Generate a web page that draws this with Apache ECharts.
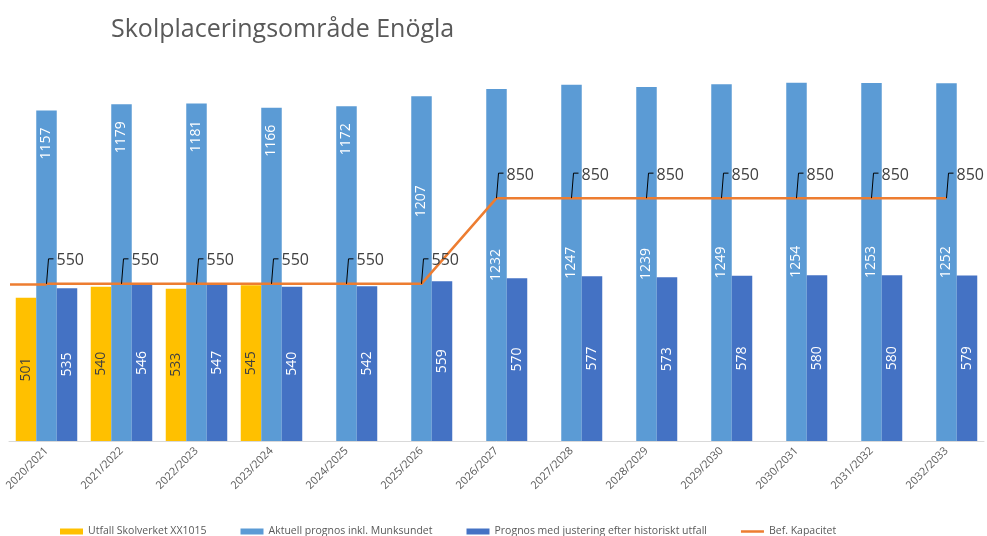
<!DOCTYPE html>
<html>
<head>
<meta charset="utf-8">
<script src="https://cdn.jsdelivr.net/npm/echarts@6/dist/echarts.min.js"></script>
<style>
  html, body { margin: 0; padding: 0; background: #fff; }
  #chart { width: 987px; height: 536px; }
</style>
</head>
<body>
<div id="chart"></div>
<script>
// läsår
const years = ['2020/2021', '2021/2022', '2022/2023', '2023/2024', '2024/2025', '2025/2026',
  '2026/2027', '2027/2028', '2028/2029', '2029/2030', '2030/2031', '2031/2032', '2032/2033'];
const utfall = [501, 540, 533, 545, null, null, null, null, null, null, null, null, null];
const aktuellPrognos = [1157, 1179, 1181, 1166, 1172, 1207, 1232, 1247, 1239, 1249, 1254, 1253, 1252];
const justeradPrognos = [535, 546, 547, 540, 542, 559, 570, 577, 573, 578, 580, 580, 579];
const kapacitet = [550, 550, 550, 550, 550, 550, 850, 850, 850, 850, 850, 850, 850];

const FONT = 'Open Sans';
const GRID_LEFT = 9;

const chart = echarts.init(document.getElementById('chart'));

// labels in the light blue bars were moved up by hand in the original
const blueData = aktuellPrognos.map((v, i) => {
  let label = {};
  if (i < 5) label = { position: ['50%', 33], align: 'center', verticalAlign: 'middle' };
  else if (i === 5) label = { position: ['50%', 105], align: 'center', verticalAlign: 'middle' };
  return { value: v, label };
});

const option = {
  animation: false,
  textStyle: { fontFamily: FONT },
  title: {
    text: 'Skolplaceringsområde Enögla',
    left: 106,
    top: 12,
    textStyle: { fontFamily: FONT, fontSize: 25, fontWeight: 'normal', color: '#595959' }
  },
  legend: {
    left: 55,
    top: 521,
    itemWidth: 23,
    itemHeight: 6,
    itemGap: 34,
    textStyle: { fontFamily: FONT, fontSize: 10.5, color: '#595959' },
    data: [
      { name: 'Utfall Skolverket XX1015', icon: 'rect' },
      { name: 'Aktuell prognos inkl. Munksundet', icon: 'rect' },
      { name: 'Prognos med justering efter historiskt utfall', icon: 'rect' },
      // thin line icon: the two moveTo points keep the full 23x6 box
      { name: 'Bef. Kapacitet', icon: 'path://M0,0 M23,6 M0,1.75 L23,1.75 L23,4.25 L0,4.25 Z', itemStyle: { color: '#ED7D31' } }
    ]
  },
  grid: { left: GRID_LEFT, right: 3, top: 41, bottom: 95, containLabel: false },
  xAxis: {
    type: 'category',
    data: years,
    axisLine: { lineStyle: { color: '#d9d9d9', width: 1 } },
    axisTick: { show: false },
    axisLabel: { rotate: 45, fontSize: 11, color: '#595959', margin: 8, interval: 0 }
  },
  yAxis: {
    type: 'value',
    min: 0,
    max: 1400,
    show: false,
    splitLine: { show: false }
  },
  series: [
    {
      name: 'Utfall Skolverket XX1015',
      type: 'bar',
      data: utfall,
      barGap: '0%',
      barCategoryGap: '18%',
      itemStyle: { color: '#FFC000' },
      label: { show: true, position: 'inside', rotate: 90, color: '#404040', fontSize: 14, fontFamily: FONT }
    },
    {
      name: 'Aktuell prognos inkl. Munksundet',
      type: 'bar',
      data: blueData,
      barGap: '0%',
      barCategoryGap: '18%',
      itemStyle: { color: '#5B9BD5' },
      label: { show: true, position: 'inside', rotate: 90, color: '#fff', fontSize: 14, fontFamily: FONT }
    },
    {
      name: 'Prognos med justering efter historiskt utfall',
      type: 'bar',
      data: justeradPrognos,
      barGap: '0%',
      barCategoryGap: '18%',
      itemStyle: { color: '#4472C4' },
      label: { show: true, position: 'inside', rotate: 90, color: '#fff', fontSize: 14, fontFamily: FONT }
    },
    {
      name: 'Bef. Kapacitet',
      type: 'line',
      data: kapacitet,
      symbol: 'none',
      z: 5,
      lineStyle: { color: '#ED7D31', width: 2.5 },
      itemStyle: { color: '#ED7D31' },
      markLine: {
        silent: true,
        symbol: 'none',
        label: { show: false },
        lineStyle: { color: '#ED7D31', width: 2.5, type: 'solid' },
        data: [[{ x: GRID_LEFT + 1, yAxis: kapacitet[0] }, { xAxis: 0, yAxis: kapacitet[0] }]]
      }
    },
    {
      // leader lines + value labels for the capacity line
      type: 'custom',
      z: 6,
      silent: true,
      data: kapacitet.map((v, i) => [i, v]),
      encode: { x: 0, y: 1 },
      renderItem: function (params, api) {
        const p = api.coord([api.value(0), api.value(1)]);
        return {
          type: 'group',
          children: [
            {
              type: 'polyline',
              shape: { points: [[p[0], p[1]], [p[0] + 2, p[1] - 25], [p[0] + 7, p[1] - 25]] },
              style: { stroke: '#000', lineWidth: 1, fill: null }
            },
            {
              type: 'text',
              x: p[0] + 10,
              y: p[1] - 23,
              style: {
                text: String(api.value(1)),
                fill: '#404040',
                font: '16px "Open Sans"',
                verticalAlign: 'middle',
                align: 'left'
              }
            }
          ]
        };
      }
    }
  ]
};

chart.setOption(option);
</script>
</body>
</html>
